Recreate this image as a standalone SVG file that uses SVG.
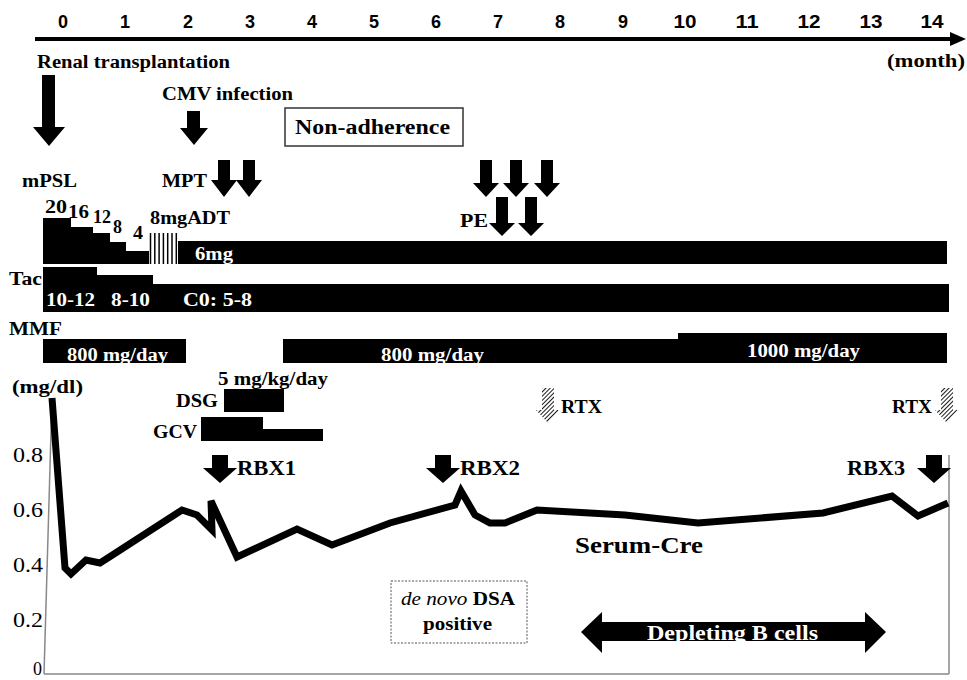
<svg xmlns="http://www.w3.org/2000/svg" width="967" height="680" viewBox="0 0 967 680">
<style>
.t{font-family:"Liberation Serif","Times New Roman",serif;font-weight:bold;font-size:18px;fill:#000}
.w{fill:#fff}
.n{font-family:"Liberation Sans",Arial,sans-serif;font-weight:bold;font-size:18px;fill:#000;text-anchor:middle}
.y{font-family:"Liberation Serif","Times New Roman",serif;font-size:20px;fill:#000}
.bar{fill:#000}
.arr{fill:#000}
.hat{fill:url(#diag)}
.frame{stroke:#888;stroke-width:1.5;fill:none}
</style>
<defs>
<pattern id="diag" width="3" height="3" patternUnits="userSpaceOnUse" patternTransform="rotate(45)">
<rect width="3" height="3" fill="#fff"/>
<line x1="0" y1="0" x2="0" y2="3" stroke="#1a1a1a" stroke-width="2"/>
</pattern>
</defs>

<g id="timeaxis">
<line x1="35" y1="39" x2="952" y2="39" stroke="#000" stroke-width="4"/>
<polygon points="950,32 966,39 950,46" fill="#000"/>
<text class="n" x="63" y="28">0</text>
<text class="n" x="125" y="28">1</text>
<text class="n" x="188" y="28">2</text>
<text class="n" x="250" y="28">3</text>
<text class="n" x="312" y="28">4</text>
<text class="n" x="374" y="28">5</text>
<text class="n" x="436" y="28">6</text>
<text class="n" x="498" y="28">7</text>
<text class="n" x="560" y="28">8</text>
<text class="n" x="623" y="28">9</text>
<text class="n" x="685" y="28" textLength="23" lengthAdjust="spacingAndGlyphs">10</text>
<text class="n" x="747" y="28" textLength="23" lengthAdjust="spacingAndGlyphs">11</text>
<text class="n" x="809" y="28" textLength="23" lengthAdjust="spacingAndGlyphs">12</text>
<text class="n" x="871" y="28" textLength="23" lengthAdjust="spacingAndGlyphs">13</text>
<text class="n" x="932" y="28" textLength="23" lengthAdjust="spacingAndGlyphs">14</text>
<text class="t" x="887" y="67" textLength="78" lengthAdjust="spacingAndGlyphs">(month)</text>
</g>

<g id="renal"><text class="t" x="37" y="68" textLength="193" lengthAdjust="spacingAndGlyphs">Renal transplantation</text></g>
<g id="cmv"><text class="t" x="162" y="100" textLength="131" lengthAdjust="spacingAndGlyphs">CMV infection</text></g>
<g id="nonadherence">
<rect x="285" y="108" width="178" height="38" fill="#fff" stroke="#333" stroke-width="1.5"/>
<text class="t" x="295" y="134" style="font-size:20px" textLength="155" lengthAdjust="spacingAndGlyphs">Non-adherence</text>
</g>

<g id="mpsl">
<text class="t" x="22" y="187" textLength="55" lengthAdjust="spacingAndGlyphs">mPSL</text>
<text class="t" x="45" y="213" textLength="22" lengthAdjust="spacingAndGlyphs">20</text>
<text class="t" x="68" y="218" textLength="21" lengthAdjust="spacingAndGlyphs">16</text>
<text class="t" x="93" y="223" textLength="18" lengthAdjust="spacingAndGlyphs">12</text>
<text class="t" x="113" y="233" textLength="9" lengthAdjust="spacingAndGlyphs">8</text>
<text class="t" x="133" y="239" textLength="10" lengthAdjust="spacingAndGlyphs">4</text>
<text class="t" x="150" y="224" textLength="80" lengthAdjust="spacingAndGlyphs">8mgADT</text>
<path class="bar" d="M43,264 V218 H71 V227 H93 V233 H110 V242 H126 V251 H149 V264 Z"/>
<g stroke="#000" stroke-width="1.5">
<line x1="150.5" y1="233" x2="150.5" y2="264"/>
<line x1="154.8" y1="233" x2="154.8" y2="264"/>
<line x1="159.1" y1="233" x2="159.1" y2="264"/>
<line x1="163.4" y1="233" x2="163.4" y2="264"/>
<line x1="167.7" y1="233" x2="167.7" y2="264"/>
<line x1="172" y1="233" x2="172" y2="264"/>
<line x1="176.3" y1="233" x2="176.3" y2="264"/>
</g>
<rect class="bar" x="178" y="241" width="769" height="23"/>
<text class="t w" x="195" y="260" textLength="38" lengthAdjust="spacingAndGlyphs">6mg</text>
</g>

<g id="mpt"><text class="t" x="162" y="187" textLength="45" lengthAdjust="spacingAndGlyphs">MPT</text></g>
<g id="pe"><text class="t" x="460" y="227" textLength="28" lengthAdjust="spacingAndGlyphs">PE</text></g>

<g id="tac">
<text class="t" x="9" y="285" textLength="33" lengthAdjust="spacingAndGlyphs">Tac</text>
<path class="bar" d="M43,312 V267 H97 V275 H153 V284 H949 V312 Z"/>
<text class="t w" x="46" y="306" textLength="49" lengthAdjust="spacingAndGlyphs">10-12</text>
<text class="t w" x="111" y="306" textLength="39" lengthAdjust="spacingAndGlyphs">8-10</text>
<text class="t w" x="183" y="306" textLength="69" lengthAdjust="spacingAndGlyphs">C0: 5-8</text>
</g>

<g id="mmf">
<text class="t" x="9" y="335" textLength="53" lengthAdjust="spacingAndGlyphs">MMF</text>
<rect class="bar" x="43" y="339" width="143" height="24"/>
<path class="bar" d="M283,363 V339 H678 V333 H947 V363 Z"/>
<text class="t w" x="67" y="361" textLength="101" lengthAdjust="spacingAndGlyphs">800 mg/day</text>
<text class="t w" x="381" y="361" textLength="103" lengthAdjust="spacingAndGlyphs">800 mg/day</text>
<text class="t w" x="747" y="357" textLength="113" lengthAdjust="spacingAndGlyphs">1000 mg/day</text>
</g>

<g id="dsg">
<text class="t" x="218" y="385" textLength="110" lengthAdjust="spacingAndGlyphs">5 mg/kg/day</text>
<text class="t" x="176" y="407" textLength="42" lengthAdjust="spacingAndGlyphs">DSG</text>
<rect class="bar" x="224" y="389" width="60" height="23"/>
</g>
<g id="gcv">
<text class="t" x="153" y="438" textLength="44" lengthAdjust="spacingAndGlyphs">GCV</text>
<path class="bar" d="M201,441 V417 H263 V429 H323 V441 Z"/>
</g>

<g id="chart">
<text class="t" x="12" y="393" textLength="71" lengthAdjust="spacingAndGlyphs">(mg/dl)</text>
<text class="y" x="13" y="462" textLength="30" lengthAdjust="spacingAndGlyphs">0.8</text>
<text class="y" x="13" y="517" textLength="30" lengthAdjust="spacingAndGlyphs">0.6</text>
<text class="y" x="13" y="572" textLength="30" lengthAdjust="spacingAndGlyphs">0.4</text>
<text class="y" x="13" y="627" textLength="30" lengthAdjust="spacingAndGlyphs">0.2</text>
<text class="y" x="33" y="675" style="font-size:18px">0</text>
<line class="frame" x1="44" y1="674" x2="52" y2="398"/>
<line class="frame" x1="44" y1="674" x2="949" y2="674"/>
<line class="frame" x1="949" y1="455" x2="949" y2="674"/>
</g>

<g id="serumcre">
<polyline fill="none" stroke="#000" stroke-width="7" stroke-linejoin="miter" stroke-miterlimit="4" points="52,398 65,568 71,574 86,560 100,563 114,554 182,510 197,515 212,530 211,501 237,557 297,529 332,545 390,523 455,505 461,491 475,515 490,523 505,523 537,510 625,515 698,523 823,513 892,496 918,516 948,503"/>
<text class="t" x="575" y="553" style="font-size:23px" textLength="128" lengthAdjust="spacingAndGlyphs">Serum-Cre</text>
</g>

<g id="rbx1"><text class="t" x="237" y="475" style="font-size:20px" textLength="59" lengthAdjust="spacingAndGlyphs">RBX1</text></g>
<g id="rbx2"><text class="t" x="460" y="475" style="font-size:20px" textLength="60" lengthAdjust="spacingAndGlyphs">RBX2</text></g>
<g id="rbx3"><text class="t" x="847" y="475" style="font-size:20px" textLength="58" lengthAdjust="spacingAndGlyphs">RBX3</text></g>
<g id="rtx1"><text class="t" x="561" y="413" textLength="41" lengthAdjust="spacingAndGlyphs">RTX</text></g>
<g id="rtx2"><text class="t" x="892" y="413" textLength="40" lengthAdjust="spacingAndGlyphs">RTX</text></g>

<g id="dsa">
<rect x="391" y="581" width="136" height="62" fill="#fff" stroke="#555" stroke-width="1" stroke-dasharray="2,1.5"/>
<text class="t" x="401" y="605" textLength="114" lengthAdjust="spacingAndGlyphs"><tspan style="font-style:italic;font-weight:normal">de novo</tspan> DSA</text>
<text class="t" x="423" y="630" textLength="69" lengthAdjust="spacingAndGlyphs">positive</text>
</g>

<g id="bcells">
<polygon class="arr" points="581,632 602,612 602,622 865,622 865,612 886,632 865,653 865,641 602,641 602,653"/>
<text class="t w" x="647" y="640" style="font-size:20px" textLength="171" lengthAdjust="spacingAndGlyphs">Depleting B cells</text>
</g>

<g id="connectors">
<path class="arr" d="M42,75 H55 V127 H65 L49,146 L33,127 H42 Z"/>
<path class="arr" d="M187,111 H200 V128 H208 L194,145 L180,128 H187 Z"/>
<path class="arr" d="M218,160 H230 V180 H237 L224,197 L211,180 H218 Z"/>
<path class="arr" d="M243,160 H255 V180 H262 L249,197 L236,180 H243 Z"/>
<path class="arr" d="M480,160 H492 V183 H499 L486,197 L473,183 H480 Z"/>
<path class="arr" d="M510,160 H522 V183 H529 L516,197 L503,183 H510 Z"/>
<path class="arr" d="M541,160 H553 V183 H560 L547,197 L534,183 H541 Z"/>
<path class="arr" d="M496,197 H508 V223 H515 L502,236 L489,223 H496 Z"/>
<path class="arr" d="M525,197 H537 V223 H544 L531,236 L518,223 H525 Z"/>
<path class="arr" d="M212,455 H228 V468 H237 L220,483 L203,468 H212 Z"/>
<path class="arr" d="M435,455 H451 V468 H460 L443,483 L426,468 H435 Z"/>
<path class="arr" d="M926,455 H942 V468 H951 L934,483 L917,468 H926 Z"/>
<path class="hat" d="M542,388 H554 V410 H559 L548,423 L536,410 H542 Z"/>
<path class="hat" d="M941,388 H953 V410 H958 L947,423 L935,410 H941 Z"/>
</g>
</svg>
